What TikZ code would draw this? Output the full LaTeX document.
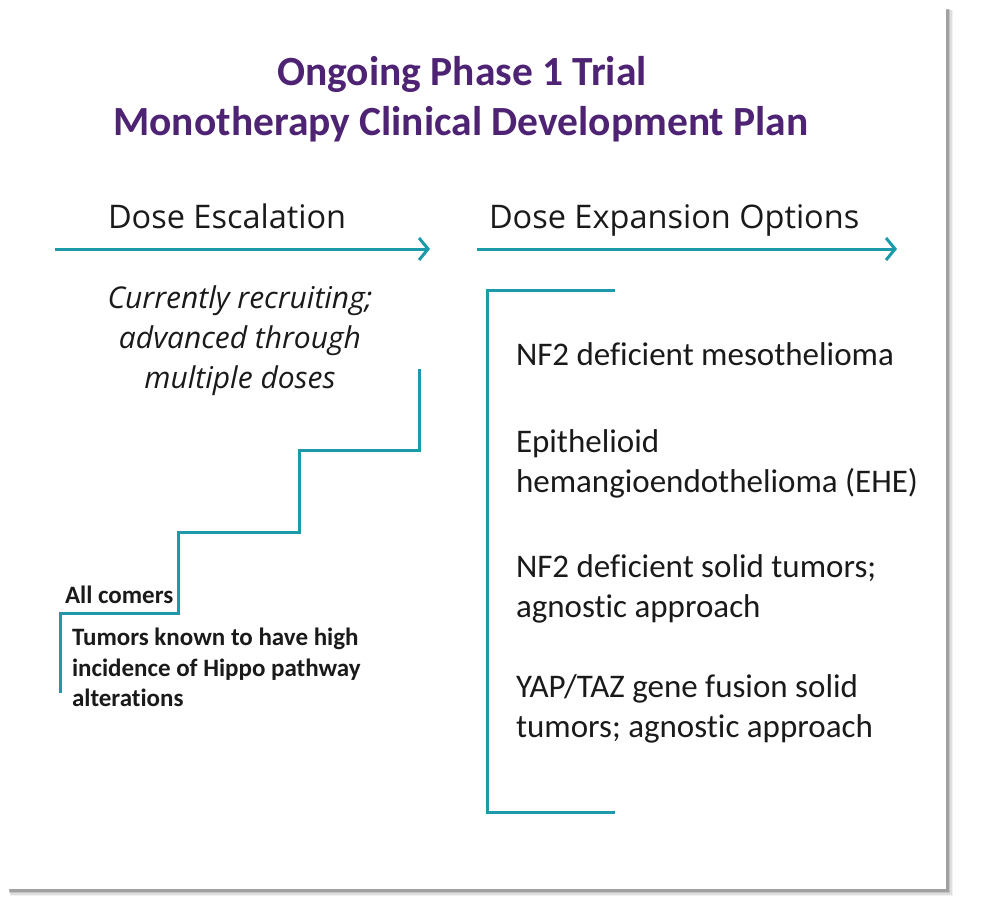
\documentclass[tikz,border=0pt]{standalone}
\usepackage{fontspec}
\setmainfont{Carlito}[Ligatures=NoCommon]
\newfontfamily\osans{Open Sans}
\usetikzlibrary{arrows.meta}
\definecolor{teal1}{HTML}{1B9AA9}
\definecolor{purp}{HTML}{4E2373}
\definecolor{txt}{HTML}{1A1A1A}
\tikzset{
  x=1pt,y=-1pt,
  lbl/.style={inner sep=0pt,outer sep=0pt,anchor=base west,text=txt},
  ttl/.style={inner sep=0pt,anchor=base,text=purp,font=\fontsize{41.5}{48}\selectfont\bfseries},
  hdr/.style={lbl,font=\osans\fontsize{32.5}{38}\selectfont},
  itl/.style={inner sep=0pt,anchor=base,text=txt,font=\osans\itshape\fontsize{30}{36}\selectfont},
  opt/.style={lbl,font=\fontsize{33}{40}\selectfont},
  sml/.style={lbl,font=\bfseries\fontsize{25}{30}\selectfont},
  tl/.style={draw=teal1,line width=3pt},
  arr/.style={tl,-{Straight Barb[length=9pt,width=22pt,line width=3pt]}}
}
\begin{document}
\begin{tikzpicture}
\useasboundingbox (0,0) rectangle (1006,905);
% card shadow
\foreach \o/\a in {7/0.05,5.5/0.08,4/0.12,2.5/0.18}{
  \fill[black,opacity=\a] (8+\o*0.3,8+\o*0.3) rectangle (946+\o,889+\o);
}
\fill[white] (8,8) rectangle (946,889);
% title
\node[ttl] (t1) at (462,85) {Ongoing Phase 1 Trial};
\node[ttl] (t2) at (461,135) {Monotherapy Clinical Development Plan};
% headers
\node[hdr] (h1) at (108,228) {Dose Escalation};
\node[hdr] (h2) at (489,228) {Dose Expansion Options};
% arrows
\coordinate (a1s) at (55,249); \coordinate (a1e) at (430,249);
\coordinate (a2s) at (477,249); \coordinate (a2e) at (897,249);
\draw[arr] (a1s) -- (a1e);
\draw[arr] (a2s) -- (a2e);
% italic
\node[itl] (i1) at (240,308) {Currently recruiting;};
\node[itl] (i2) at (240,348) {advanced through};
\node[itl] (i3) at (240,388) {multiple doses};
% staircase
\coordinate (s0) at (60,693);
\coordinate (s1) at (60,613);
\coordinate (s2) at (178,613);
\coordinate (s3) at (178,532);
\coordinate (s4) at (299,532);
\coordinate (s5) at (299,450);
\coordinate (s6) at (419,450);
\coordinate (s7) at (419,369);
\draw[tl] (s0) -- (s1) -- (s2) -- (s3) -- (s4) -- (s5) -- (s6) -- (s7);
\node[sml] (ac) at (65,603) {All comers};
\node[sml] (tk1) at (72,645) {Tumors known to have high};
\node[sml] (tk2) at (72,676) {incidence of Hippo pathway};
\node[sml] (tk3) at (72,706) {alterations};
% bracket
\coordinate (b0) at (615,290);
\coordinate (b1) at (487,290);
\coordinate (b2) at (487,812);
\coordinate (b3) at (615,812);
\draw[tl] (b0) -- (b1) -- (b2) -- (b3);
% options
\node[opt] (o1) at (516,365) {NF2 deficient mesothelioma};
\node[opt] (o2) at (516,452) {Epithelioid};
\node[opt] (o3) at (516,492) {hemangioendothelioma (EHE)};
\node[opt] (o4) at (516,577) {NF2 deficient solid tumors;};
\node[opt] (o5) at (516,617) {agnostic approach};
\node[opt] (o6) at (516,697) {YAP/TAZ gene fusion solid};
\node[opt] (o7) at (516,737) {tumors; agnostic approach};
\end{tikzpicture}
\end{document}
